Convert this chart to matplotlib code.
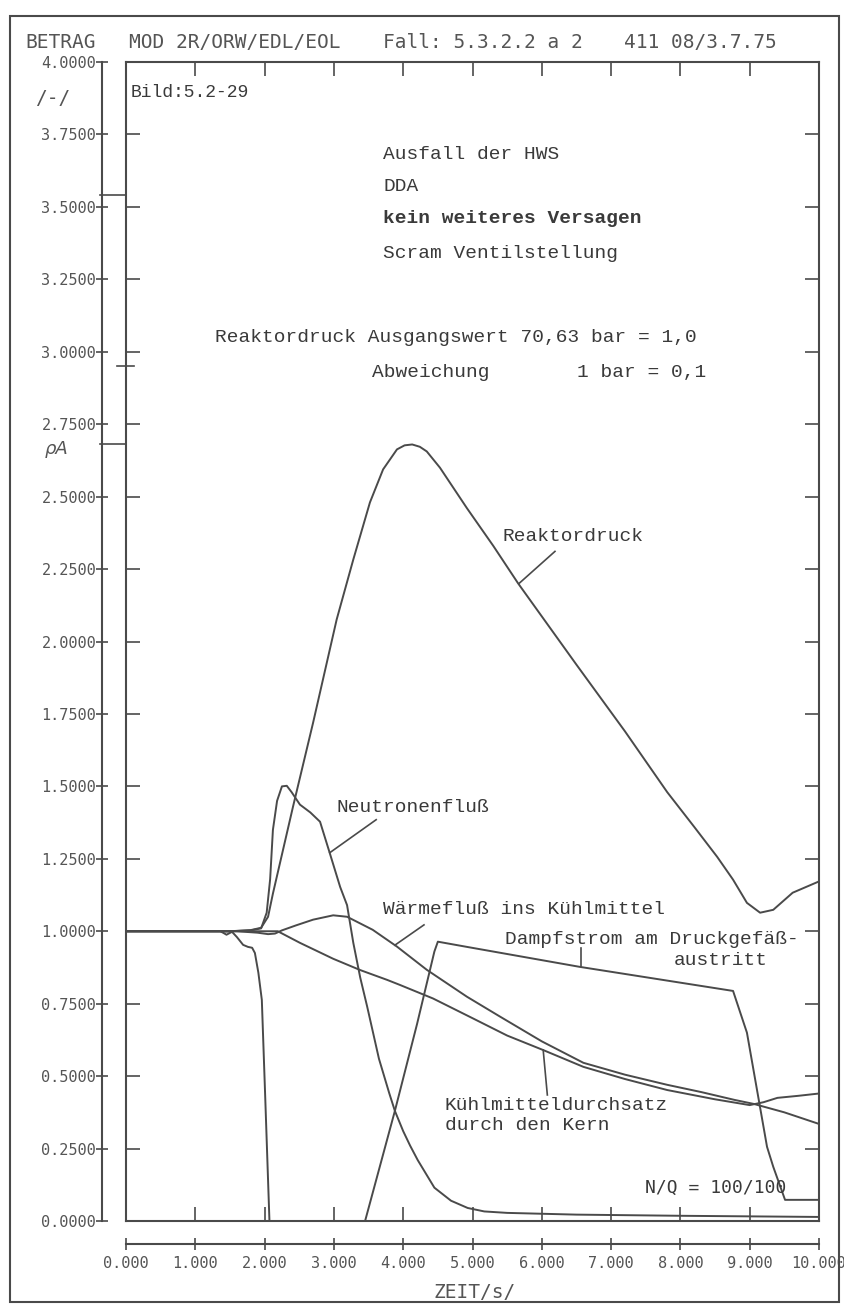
import numpy as np
import matplotlib.pyplot as plt
from matplotlib.patches import Rectangle

t_druck = [0, 1.5, 1.8, 1.95, 2.05, 2.12, 2.41, 2.70, 3.04, 3.28, 3.52, 3.71, 3.91,
           4.02, 4.13, 4.24, 4.34, 4.53, 4.92, 5.30, 5.66, 6.5, 7.2, 7.81, 8.2,
           8.53, 8.76, 8.96, 9.15, 9.34, 9.62, 10.0]
druck = [1.0, 1.0, 1.004, 1.012, 1.05, 1.13, 1.43, 1.72, 2.076, 2.283, 2.48, 2.594, 2.663,
         2.677, 2.68, 2.672, 2.656, 2.60, 2.46, 2.33, 2.20, 1.92, 1.69, 1.48,
         1.36, 1.257, 1.178, 1.098, 1.064, 1.074, 1.133, 1.172]

t_neutr = [0, 1.5, 1.8, 1.95, 2.03, 2.08, 2.12, 2.18, 2.25, 2.32, 2.39, 2.51, 2.66,
           2.80, 2.94, 3.09, 3.19, 3.28, 3.38, 3.48, 3.65, 3.8, 3.88, 4.0, 4.1, 4.21,
           4.45, 4.69, 4.93, 5.17, 5.5, 6.5, 8.0, 10.0]
neutr = [1.0, 1.0, 1.003, 1.01, 1.064, 1.18, 1.35, 1.45, 1.50, 1.502, 1.48, 1.437, 1.41,
         1.378, 1.27, 1.153, 1.09, 0.96, 0.84, 0.74, 0.56, 0.44, 0.38, 0.31, 0.26, 0.21,
         0.115, 0.07, 0.045, 0.033, 0.028, 0.022, 0.018, 0.014]

t_waerme = [0, 1.6, 1.9, 2.05, 2.15, 2.25, 2.45, 2.7, 2.99, 3.19, 3.56, 3.91, 4.34,
            4.92, 5.4, 6.0, 6.6, 7.2, 7.81, 8.3, 8.78, 9.06, 9.5, 10.0]
waerme = [1.0, 1.0, 0.995, 0.99, 0.992, 1.003, 1.02, 1.04, 1.055, 1.05, 1.005, 0.947,
          0.867, 0.774, 0.705, 0.62, 0.546, 0.505, 0.47, 0.445, 0.418, 0.404, 0.375, 0.335]

t_kuehl = [0, 2.0, 2.19, 2.51, 2.99, 3.38, 3.77, 3.95, 4.43, 5.0, 5.5, 6.02, 6.6, 7.2,
           7.81, 8.5, 9.0, 9.2, 9.4, 9.7, 10.0]
kuehl = [1.0, 1.0, 1.0, 0.96, 0.905, 0.866, 0.832, 0.815, 0.768, 0.70, 0.64, 0.59, 0.532,
         0.49, 0.452, 0.42, 0.40, 0.41, 0.425, 0.432, 0.44]

t_dampf = [0, 1.36, 1.40, 1.45, 1.53, 1.60, 1.69, 1.76, 1.82, 1.86, 1.91, 1.96, 2.01,
           2.07, 3.45, 3.88, 4.2, 4.45, 4.5, 4.92, 6.55, 8.76, 8.96, 9.25, 9.34, 9.51, 10.0]
dampf = [1.0, 1.0, 0.995, 0.988, 0.998, 0.98, 0.953, 0.946, 0.943, 0.925, 0.857, 0.763,
         0.42, 0.0, 0.0, 0.38, 0.68, 0.93, 0.964, 0.946, 0.877, 0.794, 0.65, 0.256, 0.187,
         0.073, 0.073]

yticks = np.arange(0, 4.01, 0.25)
xticks = np.arange(0, 10.01, 1.0)

ink = '#4a4a4a'
tw = 'Liberation Mono'      # Schreibmaschine
pl = 'DejaVu Sans Mono'     # Plotter

fig = plt.figure(figsize=(8.44, 13.08), dpi=100)
fig.patch.set_facecolor('white')
rect = [126/844, 87/1308, 693/844, 1159/1308]

ax = fig.add_axes(rect)
ax.set_xlim(0, 10)
ax.set_ylim(0, 4)
ax.set_xticks(xticks)
ax.set_yticks(yticks)
ax.tick_params(direction='in', length=10, width=1.2, color=ink,
               top=True, right=True, labelbottom=False, labelleft=False)
for s in ax.spines.values():
    s.set_color(ink)
    s.set_linewidth(1.5)

# aeussere Achsen
ax2 = fig.add_axes(rect)
ax2.patch.set_visible(False)
ax2.set_xlim(0, 10)
ax2.set_ylim(0, 4)
ax2.spines['top'].set_visible(False)
ax2.spines['right'].set_visible(False)
ax2.spines['left'].set_position(('outward', 17))
ax2.spines['bottom'].set_position(('outward', 16.5))
for k in ['left', 'bottom']:
    ax2.spines[k].set_color(ink)
    ax2.spines[k].set_linewidth(1.5)
ax2.set_yticks(yticks)
ax2.set_yticklabels(['%.4f' % v for v in yticks], family=pl, fontsize=11, color='#555555')
ax2.set_xticks(xticks)
ax2.set_xticklabels(['%.3f' % v for v in xticks], family=pl, fontsize=11, color='#555555')
ax2.tick_params(direction='inout', length=9, width=1.2, color=ink, pad=0)
ax2.tick_params(axis='x', pad=4)

for t, v in [(t_druck, druck), (t_neutr, neutr), (t_waerme, waerme),
             (t_kuehl, kuehl), (t_dampf, dampf)]:
    ax.plot(t, v, color=ink, lw=1.4)

# Markierungen links (Spitzenwert rhoA usw.)
marks = [(-0.37, 0.0, max(druck)), (-0.37, 0.0, 3.54), (-0.13, 0.12, 2.95)]
for x0, x1, v in marks:
    ax.plot([x0, x1], [v, v], color=ink, lw=1.2, clip_on=False)

# Beschriftungen
tc = '#3a3a3a'
ax.text(0.07, 3.896, 'Bild:5.2-29', family=tw, fontsize=13, color=tc, va='center')
ax.text(3.71, 3.68, 'Ausfall der HWS', family=tw, fontsize=14, color=tc, va='center')
ax.text(3.71, 3.57, 'DDA', family=tw, fontsize=14, color=tc, va='center')
ax.text(3.71, 3.46, 'kein weiteres Versagen', family=tw, fontsize=14, color=tc,
        va='center', fontweight='bold')
ax.text(3.71, 3.34, 'Scram Ventilstellung', family=tw, fontsize=14, color=tc, va='center')
ax.text(1.28, 3.05, 'Reaktordruck Ausgangswert 70,63 bar = 1,0', family=tw, fontsize=14,
        color=tc, va='center')
ax.text(3.55, 2.93, 'Abweichung', family=tw, fontsize=14, color=tc, va='center')
ax.text(6.51, 2.93, '1 bar = 0,1', family=tw, fontsize=14, color=tc, va='center')

ax.text(5.44, 2.363, 'Reaktordruck', family=tw, fontsize=14, color=tc, va='center')
ax.text(3.04, 1.427, 'Neutronenfluß', family=tw, fontsize=14, color=tc, va='center')
ax.text(3.71, 1.074, 'Wärmefluß ins Kühlmittel', family=tw, fontsize=14, color=tc, va='center')
ax.text(5.47, 0.971, 'Dampfstrom am Druckgefäß-', family=tw, fontsize=14, color=tc, va='center')
ax.text(7.91, 0.90, 'austritt', family=tw, fontsize=14, color=tc, va='center')
ax.text(4.60, 0.40, 'Kühlmitteldurchsatz', family=tw, fontsize=14, color=tc, va='center')
ax.text(4.60, 0.33, 'durch den Kern', family=tw, fontsize=14, color=tc, va='center')
ax.text(7.49, 0.114, 'N/Q = 100/100', family=pl, fontsize=13, color=tc, va='center')

leaders = [((6.19, 5.67), (2.311, 2.20)),
           ((3.61, 2.94), (1.385, 1.271)),
           ((4.30, 3.88), (1.022, 0.952)),
           ((6.57, 6.57), (0.943, 0.879)),
           ((6.08, 6.02), (0.435, 0.59))]
for xs, ys in leaders:
    ax.plot(xs, ys, color=ink, lw=1.2)

fig.text(25/844, 1 - 42/1308, 'BETRAG', family=pl, fontsize=14, color='#555555', va='center')
fig.text(129/844, 1 - 42/1308, 'MOD 2R/ORW/EDL/EOL', family=pl, fontsize=14, color='#555555', va='center')
fig.text(383/844, 1 - 42/1308, 'Fall: 5.3.2.2 a 2', family=pl, fontsize=14, color='#555555', va='center')
fig.text(624/844, 1 - 42/1308, '411 08/3.7.75', family=pl, fontsize=14, color='#555555', va='center')
fig.text(35/844, 1 - 98/1308, '/-/', family=pl, fontsize=14, color='#555555', va='center')
fig.text(45/844, 1 - 449/1308, 'ρA', family='DejaVu Sans', fontsize=13, style='italic',
         color='#555555', va='center')
fig.text(475/844, 1 - 1292/1308, 'ZEIT/s/', family=pl, fontsize=14, color='#555555',
         va='center', ha='center')

fig.patches.append(Rectangle((10/844, 6/1308), 829/844, 1286/1308, transform=fig.transFigure,
                             fill=False, edgecolor=ink, lw=1.5))

fig.savefig('out.png', dpi=100, facecolor='white')
